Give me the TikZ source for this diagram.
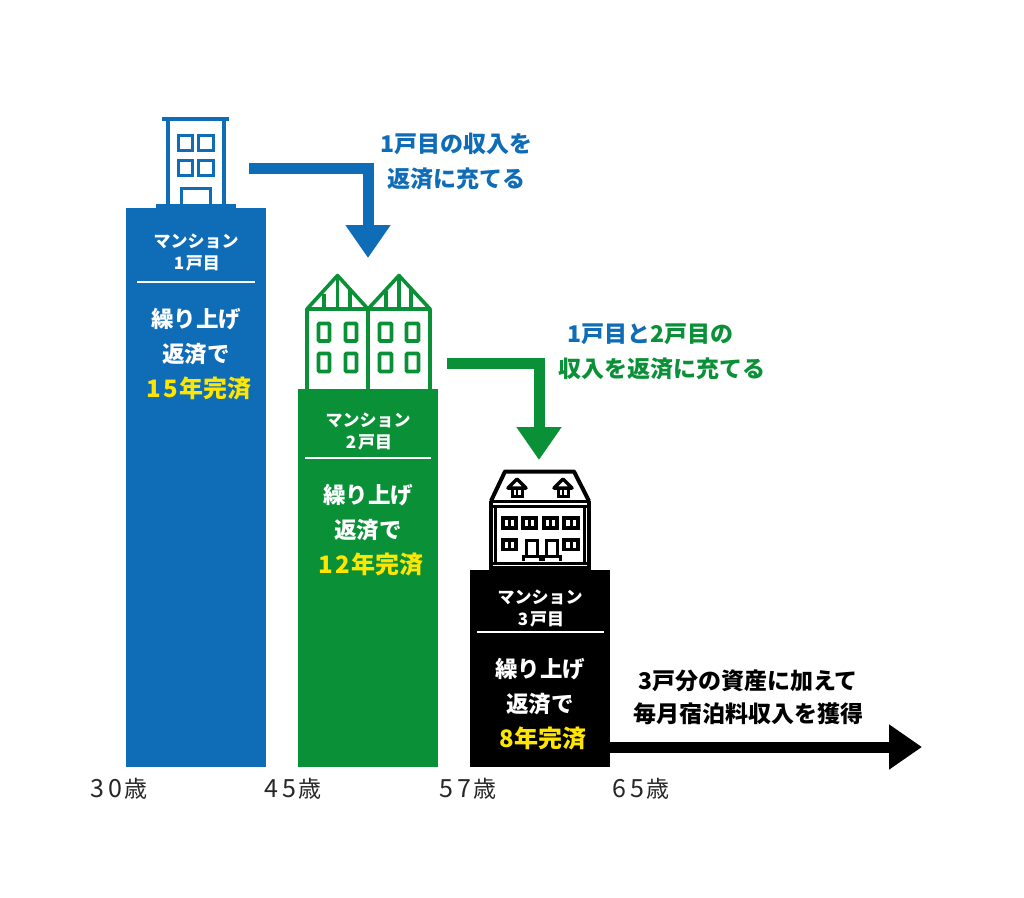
\documentclass[tikz,border=0pt]{standalone}
\usepackage{fontspec}
\setmainfont{Noto Sans CJK JP}
\usetikzlibrary{arrows.meta}
\definecolor{bluec}{HTML}{0F6CB6}
\definecolor{greenc}{HTML}{0A9138}
\definecolor{yellowc}{HTML}{FFE600}
\newcommand{\subnum}[1]{\makebox[14pt]{#1}}
\newcommand{\yelnum}[1]{\makebox[17pt]{#1}}
\newcommand{\agenum}[1]{\makebox[18pt]{\fontsize{25}{30}\selectfont #1}}
\newcommand{\yelline}[1]{\hspace*{5pt}\textcolor{yellowc}{\fontsize{24}{35}\selectfont #1}}
\tikzset{
  x=1pt,y=-1pt,
  bar/.style={draw=none,fill=#1,minimum width=140pt,inner sep=0pt,outer sep=0pt},
  sub/.style={text=white,align=center,font=\fontsize{17}{22}\selectfont\bfseries,inner sep=0pt},
  main/.style={text=white,align=center,font=\fontsize{22.5}{35}\selectfont\bfseries,inner sep=0pt},
  note/.style={align=center,font=\fontsize{23}{35}\selectfont\bfseries,inner sep=0pt},
  age/.style={font=\fontsize{23}{28}\selectfont,inner sep=0pt,text=black!85},
  flow/.style={line width=11pt,draw=#1,-{Triangle[width=43pt,length=33pt]}},
  rulew/.style={white,line width=1.5pt},
  ico/.style={draw=#1,line width=3.6pt,line join=miter,fill=none},
}
\begin{document}
\begin{tikzpicture}
\useasboundingbox[fill=white] (0,0) rectangle (1024,897);
% bars
\node[bar=bluec,minimum height=559pt] (b1) at (196,487.5) {};
\node[bar=greenc,minimum height=378pt] (b2) at (368,578) {};
\node[bar=black,minimum height=197pt] (b3) at (540,668.5) {};
% bar texts
\node[sub] (s1) at (196,253) {マンション\\\subnum{1}戸目};
\draw[rulew] (137,282) -- (255,282);
\node[main] (m1) at (196,354) {繰り上げ\\返済で\\\yelline{\yelnum{1}\yelnum{5}年完済}};
\node[sub] (s2) at (368,431) {マンション\\\subnum{2}戸目};
\draw[rulew] (305,458) -- (431,458);
\node[main] (m2) at (368,530) {繰り上げ\\返済で\\\yelline{\yelnum{1}\yelnum{2}年完済}};
\node[sub] (s3) at (540,608) {マンション\\\subnum{3}戸目};
\draw[rulew] (477,632) -- (604,632);
\node[main] (m3) at (540,704) {繰り上げ\\返済で\\\yelline{\yelnum{8}年完済}};
% building 1
\fill[bluec] (162,117) rectangle (229,121);
\fill[bluec] (156,204) rectangle (236,208);
\draw[ico=bluec,line width=4pt] (168,120) -- (168,205) (224,120) -- (224,205);
\draw[ico=bluec] (178.5,135.5) rectangle (192.5,150.5);
\draw[ico=bluec] (198.5,135.5) rectangle (213.5,150.5);
\draw[ico=bluec] (178.5,160.5) rectangle (192.5,175.5);
\draw[ico=bluec] (198.5,160.5) rectangle (213.5,175.5);
\draw[ico=bluec] (181.5,205) -- (181.5,188.5) -- (210.5,188.5) -- (210.5,205);
% building 2
\draw[ico=greenc,line join=round] (307,389) -- (307,309) -- (337.5,275.5) -- (368,309) -- (399,275.5) -- (430,309) -- (430,389);
\draw[ico=greenc] (307,309) -- (430,309) (368,309) -- (368,389)
  (324,294) -- (324,309) (337.5,276) -- (337.5,309) (350,289) -- (350,309)
  (386,291) -- (386,309) (399,276) -- (399,309) (411,289) -- (411,309);
\foreach \xa/\xb in {318.5/329.5,345.5/356.5,379.5/391.5,406.5/418.5}{
  \draw[ico=greenc,rounded corners=1pt] (\xa,323.5) rectangle (\xb,341);
  \draw[ico=greenc,rounded corners=1pt] (\xa,353.5) rectangle (\xb,371.5);
}
% building 3
\draw[ico=black,line width=4pt,line join=round] (491,501) -- (505,471.5) -- (574,471.5) -- (589,501);
\draw[ico=black,line width=4pt] (491,501) -- (491,570) (589,501) -- (589,570);
\draw[ico=black,line width=3pt] (490,501.5) -- (590,501.5) (490,506) -- (590,506)
  (495.5,506) -- (495.5,563) (584.5,506) -- (584.5,563) (490,563.5) -- (590,563.5);
\fill (490,566) rectangle (590,570);
\foreach \xa/\xb in {503/516,523/536,544/557,564/578}{
  \draw[ico=black,line width=3.2pt] (\xa,518) rectangle (\xb,528);
  \draw[ico=black,line width=3pt] ({(\xa+\xb)/2},518) -- ({(\xa+\xb)/2},528);
}
\foreach \xa/\xb in {503/516,564/578}{
  \draw[ico=black,line width=3.2pt] (\xa,540) rectangle (\xb,549.5);
  \draw[ico=black,line width=3pt] ({(\xa+\xb)/2},540) -- ({(\xa+\xb)/2},549.5);
}
\foreach \xa/\xb in {526/537,546/557}{
  \draw[ico=black,line width=3pt] (\xa,556) -- (\xa,540) -- (\xb,540) -- (\xb,556);
  \draw[ico=black,line width=3pt] (\xa-3,561) -- (\xa-3,556.5) -- (\xb+3,556.5) -- (\xb+3,561);
}
\foreach \c in {517,563}{
  \draw[ico=black,line width=3.5pt,line join=round] (\c-9,488) -- (\c,479) -- (\c+9,488) -- cycle;
  \draw[ico=black,line width=3pt] (\c-5,488) rectangle (\c+5,496);
  \draw[ico=black,line width=2.5pt] (\c,488) -- (\c,496);
}
% connectors
\coordinate (a1s) at (249,168);
\coordinate (a1e) at (368,258);
\coordinate (a2s) at (447,363);
\coordinate (a2e) at (539,460);
\coordinate (a3e) at (922,747);
\draw[flow=bluec] (a1s) -| (a1e);
\draw[flow=greenc] (a2s) -| (a2e);
\draw[flow=black] (b3.east |- a3e) -- (a3e);
% notes
\node[note,text=bluec] (n1) at (456,161) {1戸目の収入を\\返済に充てる};
\node[note,text=greenc] (n2) at (662,352) {\textcolor{bluec}{1戸目と}2戸目の\hspace*{24pt}\\収入を返済に充てる};
\node[note,text=black,font=\fontsize{23}{33}\selectfont\bfseries] (n3) at (748,697) {3戸分の資産に加えて\\毎月宿泊料収入を獲得};
% ages
\node[age] (a30) at (117.5,789) {\agenum{3}\agenum{0}歳};
\node[age] (a45) at (291.5,789) {\agenum{4}\agenum{5}歳};
\node[age] (a57) at (466.5,789) {\agenum{5}\agenum{7}歳};
\node[age] (a65) at (639.5,789) {\agenum{6}\agenum{5}歳};
\end{tikzpicture}
\end{document}
